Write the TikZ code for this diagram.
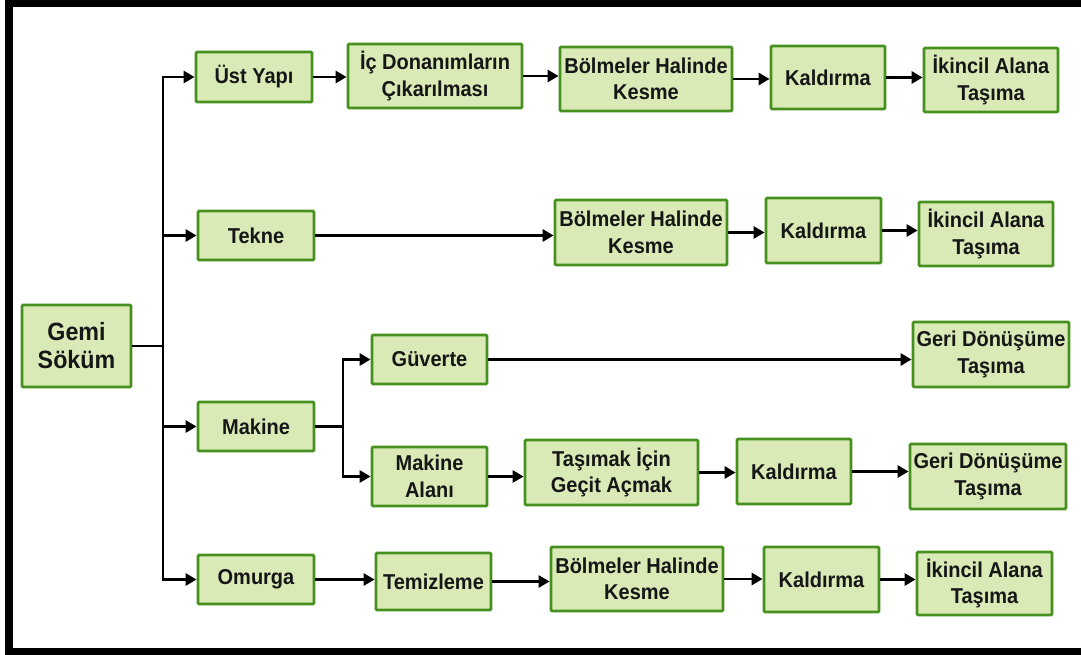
\documentclass[tikz,border=0pt]{standalone}
\usepackage{fontspec}
\setmainfont{Liberation Sans}
\newfontfamily\boxfont{Liberation Sans}[FakeStretch=0.93]
\usetikzlibrary{arrows.meta}
\definecolor{boxfill}{RGB}{217,234,183}
\definecolor{boxline}{RGB}{70,145,30}
\definecolor{boxtext}{RGB}{22,22,22}
\tikzset{
  stage/.style={draw=boxline, fill=boxfill, line width=2.8pt, rounded corners=1.2pt,
    inner sep=0pt, align=center, text=boxtext,
    font=\boxfont\bfseries\fontsize{21.5}{26.5}\selectfont},
  rootstage/.style={stage, font=\boxfont\bfseries\fontsize{25}{28}\selectfont},
  link/.style={line width=2.8pt, black},
  flow/.style={link, -{Triangle[length=11pt,width=12pt]}},
}
\begin{document}
\begin{tikzpicture}[x=1pt,y=-1pt]
\useasboundingbox (0,0) rectangle (1081,655);
% outer frame
\fill[black] (5,0) rectangle (1081,7);
\fill[black] (5,0) rectangle (13,655);
\fill[black] (5,648) rectangle (1081,655);

% root
\node[rootstage, minimum width=109, minimum height=82] (gemi) at (76.5,346) {Gemi\\Söküm};

% superstructure branch
\node[stage, minimum width=116, minimum height=50] (ust) at (254,77) {Üst Yapı};
\node[stage, minimum width=174, minimum height=64] (ic) at (435,76) {İç Donanımların\\Çıkarılması};
\node[stage, minimum width=172, minimum height=64] (bolA) at (646,79) {Bölmeler Halinde\\Kesme};
\node[stage, minimum width=114, minimum height=63] (kalA) at (828,77.5) {Kaldırma};
\node[stage, minimum width=134, minimum height=64] (ikA) at (991,80) {İkincil Alana\\Taşıma};

% hull branch
\node[stage, minimum width=116, minimum height=49] (tekne) at (256,235.5) {Tekne};
\node[stage, minimum width=172, minimum height=65] (bolB) at (641,232.5) {Bölmeler Halinde\\Kesme};
\node[stage, minimum width=115, minimum height=65] (kalB) at (823.5,230.5) {Kaldırma};
\node[stage, minimum width=134, minimum height=64] (ikB) at (986,234) {İkincil Alana\\Taşıma};

% machinery branch
\node[stage, minimum width=116, minimum height=49] (makine) at (256,426.5) {Makine};
\node[stage, minimum width=115, minimum height=49] (guverte) at (429.5,359.5) {Güverte};
\node[stage, minimum width=156, minimum height=65] (geriA) at (991,354.5) {Geri Dönüşüme\\Taşıma};
\node[stage, minimum width=115, minimum height=59] (malani) at (429.5,476.5) {Makine\\Alanı};
\node[stage, minimum width=173, minimum height=65] (gecit) at (611.5,472.5) {Taşımak İçin\\Geçit Açmak};
\node[stage, minimum width=114, minimum height=65] (kalC) at (794,471.5) {Kaldırma};
\node[stage, minimum width=156, minimum height=65] (geriB) at (988,476.5) {Geri Dönüşüme\\Taşıma};

% keel branch
\node[stage, minimum width=116, minimum height=49] (omurga) at (256,579.5) {Omurga};
\node[stage, minimum width=115, minimum height=57] (temiz) at (433.5,581.5) {Temizleme};
\node[stage, minimum width=172, minimum height=64] (bolD) at (637,579) {Bölmeler Halinde\\Kesme};
\node[stage, minimum width=115, minimum height=65] (kalD) at (821.5,579.5) {Kaldırma};
\node[stage, minimum width=135, minimum height=63] (ikD) at (984.5,583.5) {İkincil Alana\\Taşıma};

% main trunk
\coordinate (trunk) at (163,346);
\draw[link] (gemi.east) -- (trunk);
\draw[flow] (trunk) |- (ust.west);
\draw[flow] (trunk) |- (tekne.west);
\draw[flow] (trunk) |- (makine.west);
\draw[flow] (trunk) |- (omurga.west);

% machinery fork
\coordinate (fork) at (343,426.5);
\draw[link] (makine.east) -- (fork);
\draw[flow] (fork) |- (guverte.west);
\draw[flow] (fork) |- (malani.west);

% sequences
\draw[flow] (ust.east) -- (ust.east -| ic.west);
\draw[flow] (ic.east) -- (ic.east -| bolA.west);
\draw[flow] (bolA.east) -- (bolA.east -| kalA.west);
\draw[flow] (kalA.east) -- (kalA.east -| ikA.west);

\draw[flow] (tekne.east) -- (tekne.east -| bolB.west);
\draw[flow] (bolB.east) -- (bolB.east -| kalB.west);
\draw[flow] (kalB.east) -- (kalB.east -| ikB.west);

\draw[flow] (guverte.east) -- (guverte.east -| geriA.west);
\draw[flow] (malani.east) -- (malani.east -| gecit.west);
\draw[flow] (gecit.east) -- (gecit.east -| kalC.west);
\draw[flow] (kalC.east) -- (kalC.east -| geriB.west);

\draw[flow] (omurga.east) -- (omurga.east -| temiz.west);
\draw[flow] (temiz.east) -- (temiz.east -| bolD.west);
\draw[flow] (bolD.east) -- (bolD.east -| kalD.west);
\draw[flow] (kalD.east) -- (kalD.east -| ikD.west);
\end{tikzpicture}
\end{document}
